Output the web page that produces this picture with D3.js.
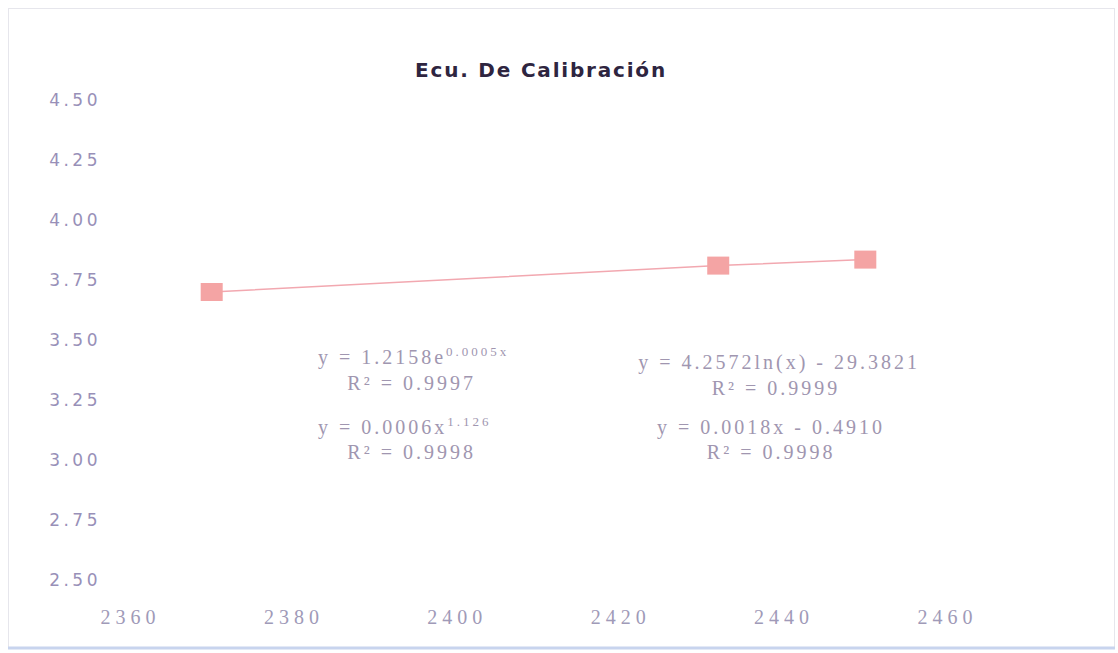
<!DOCTYPE html>
<html><head><meta charset="utf-8">
<script src="https://cdn.jsdelivr.net/npm/d3@7"></script>
<style>body{margin:0;background:#fff;}svg{display:block;}</style>
</head><body>
<script>
const title = "Ecu. De Calibración";
const xValues = [2370, 2432, 2450];
const yValues = [3.70, 3.81, 3.835];
const xTicks = [2360, 2380, 2400, 2420, 2440, 2460];
const yTicks = [2.50, 2.75, 3.00, 3.25, 3.50, 3.75, 4.00, 4.25, 4.50];
const eqLabels = [
  {x: 2383.0, y: 3.40, main: "y = 1.2158e", sup: "0.0005x"},
  {x: 2386.6, y: 3.29, main: "R² = 0.9997", sup: ""},
  {x: 2383.0, y: 3.108, main: "y = 0.0006x", sup: "1.126"},
  {x: 2386.6, y: 3.004, main: "R² = 0.9998", sup: ""},
  {x: 2422.2, y: 3.38, main: "y = 4.2572ln(x) - 29.3821", sup: ""},
  {x: 2431.2, y: 3.27, main: "R² = 0.9999", sup: ""},
  {x: 2424.5, y: 3.108, main: "y = 0.0018x - 0.4910", sup: ""},
  {x: 2430.6, y: 3.004, main: "R² = 0.9998", sup: ""}
];

const W = 1118, H = 653;
const svg = d3.select("body").append("svg").attr("width", W).attr("height", H);

svg.append("rect").attr("x", 8.5).attr("y", 8.5).attr("width", W - 12).attr("height", H - 14)
  .attr("fill", "#fff").attr("stroke", "#e6e6ec");
svg.append("line").attr("x1", 8).attr("x2", W - 3).attr("y1", 648).attr("y2", 648)
  .attr("stroke", "#c8d4ee").attr("stroke-width", 3);

const x = d3.scaleLinear().domain([2360, 2460]).range([130, 947]);
const y = d3.scaleLinear().domain([2.5, 4.5]).range([580, 100]);

svg.append("text").attr("x", 541).attr("y", 77).attr("text-anchor", "middle")
  .attr("font-family", "DejaVu Sans, Verdana, sans-serif").attr("font-weight", "bold")
  .attr("font-size", 20).attr("letter-spacing", 1.8).attr("fill", "#2e2540").text(title);

const yAxis = svg.append("g").attr("transform", "translate(101,0)")
  .call(d3.axisLeft(y).tickValues(yTicks).tickFormat(d3.format(".2f")).tickSize(0).tickPadding(0));
yAxis.select(".domain").remove();
yAxis.selectAll("text").attr("font-family", "DejaVu Sans, Verdana, sans-serif")
  .attr("font-size", 17).attr("letter-spacing", 3.5).attr("fill", "#9890b8");

const xAxis = svg.append("g").attr("transform", "translate(0,610)")
  .call(d3.axisBottom(x).tickValues(xTicks).tickFormat(d3.format("d")).tickSize(0).tickPadding(0));
xAxis.select(".domain").remove();
xAxis.selectAll("text").attr("font-family", "Liberation Serif, Times New Roman, serif")
  .attr("font-size", 20).attr("letter-spacing", 5).attr("fill", "#a09ab8");

const pts = xValues.map((v, i) => [v, yValues[i]]);
svg.append("path").datum(pts)
  .attr("d", d3.line().x(d => x(d[0])).y(d => y(d[1])))
  .attr("fill", "none").attr("stroke", "#f2a8b0").attr("stroke-width", 1.5);

svg.selectAll("rect.pt").data(pts).enter().append("rect").attr("class", "pt")
  .attr("x", d => x(d[0]) - 11).attr("y", d => y(d[1]) - 9)
  .attr("width", 22).attr("height", 18).attr("fill", "#f4a4a4");

const eq = svg.selectAll("text.eq").data(eqLabels).enter().append("text").attr("class", "eq")
  .attr("x", d => x(d.x)).attr("y", d => y(d.y))
  .attr("font-family", "Liberation Serif, Times New Roman, serif")
  .attr("font-size", 20).attr("letter-spacing", 3).attr("fill", "#a096b0");
eq.append("tspan").text(d => d.main);
eq.filter(d => d.sup).append("tspan").attr("dy", -8).attr("font-size", 13).text(d => d.sup);
</script>
</body></html>
